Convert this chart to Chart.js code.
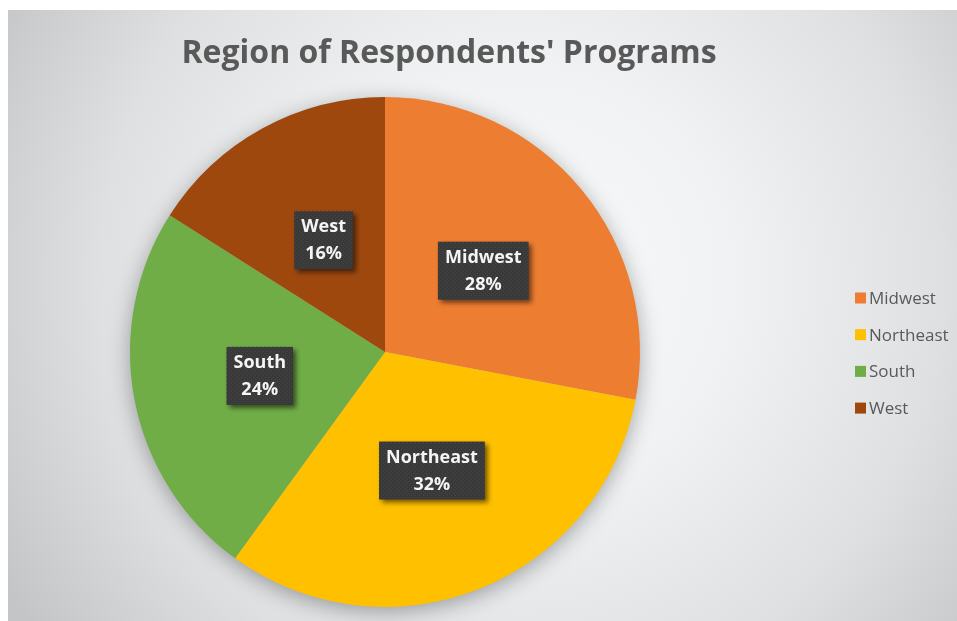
<!DOCTYPE html>
<html>
<head>
<meta charset="utf-8">
<script src="https://cdn.jsdelivr.net/npm/chart.js@4.4.1/dist/chart.umd.min.js"></script>
<style>
  html, body { margin: 0; padding: 0; background: #ffffff; }
  #wrap { width: 957px; height: 621px; }
</style>
</head>
<body>
<div id="wrap"><canvas id="c" width="957" height="621"></canvas></div>
<script>
const chartTitle = "Region of Respondents' Programs";
const categories = ['Midwest', 'Northeast', 'South', 'West'];
const shares = [28, 32, 24, 16];
const sliceColors = ['#ED7D31', '#FFC000', '#70AD47', '#9E480E'];

const FONT = '"Open Sans", "Noto Sans", sans-serif';

// dotted texture for label boxes
const pat = document.createElement('canvas');
pat.width = 4; pat.height = 4;
(function () {
  const p = pat.getContext('2d');
  p.fillStyle = '#393939'; p.fillRect(0, 0, 4, 4);
  p.fillStyle = '#474747'; p.fillRect(1, 1, 1, 1); p.fillRect(3, 3, 1, 1);
})();

const backgroundPlugin = {
  id: 'bg',
  beforeDraw(chart) {
    const ctx = chart.ctx;
    ctx.save();
    ctx.fillStyle = '#ffffff';
    ctx.fillRect(0, 0, chart.width, chart.height);
    const g = ctx.createRadialGradient(520, 280, 0, 520, 280, 600);
    g.addColorStop(0, '#f8f9f9');
    g.addColorStop(0.35, '#f1f2f3');
    g.addColorStop(0.7, '#dfe0e1');
    g.addColorStop(1, '#c4c5c7');
    ctx.fillStyle = g;
    ctx.fillRect(8, 10, chart.width - 8, chart.height - 10);
    ctx.restore();
  },
  beforeDatasetsDraw(chart) {
    const arc = chart.getDatasetMeta(0).data[0];
    if (!arc) return;
    const ctx = chart.ctx;
    ctx.save();
    ctx.shadowColor = 'rgba(0,0,0,0.35)';
    ctx.shadowBlur = 22;
    ctx.shadowOffsetX = 0;
    ctx.shadowOffsetY = 5;
    ctx.beginPath();
    ctx.arc(arc.x, arc.y, arc.outerRadius - 1, 0, Math.PI * 2);
    ctx.fillStyle = '#bbbbbb';
    ctx.fill();
    ctx.restore();
  },
  afterDatasetsDraw(chart) {
    const ctx = chart.ctx;
    const meta = chart.getDatasetMeta(0);
    const data = chart.data.datasets[0].data;
    const total = data.reduce((a, b) => a + b, 0);
    ctx.save();
    ctx.font = 'bold 18px ' + FONT;
    meta.data.forEach((el, i) => {
      const pos = el.tooltipPosition();
      const l1 = chart.data.labels[i];
      const l2 = Math.round(data[i] / total * 100) + '%';
      const w = Math.max(ctx.measureText(l1).width, ctx.measureText(l2).width) + 14;
      const h = 58;
      const x = pos.x - w / 2, y = pos.y - h / 2;
      ctx.save();
      ctx.shadowColor = 'rgba(0,0,0,0.55)';
      ctx.shadowBlur = 5;
      ctx.shadowOffsetX = 3;
      ctx.shadowOffsetY = 3;
      ctx.fillStyle = ctx.createPattern(pat, 'repeat');
      ctx.fillRect(x, y, w, h);
      ctx.restore();
      ctx.fillStyle = '#f4f4f4';
      ctx.textAlign = 'center';
      ctx.textBaseline = 'middle';
      ctx.fillText(l1, pos.x, pos.y - 13);
      ctx.fillText(l2, pos.x, pos.y + 14);
    });
    ctx.restore();
  },
  afterDraw(chart) {
    const ctx = chart.ctx;
    ctx.save();
    // title
    ctx.fillStyle = '#595959';
    ctx.font = 'bold 32px ' + FONT;
    ctx.textAlign = 'center';
    ctx.textBaseline = 'alphabetic';
    ctx.fillText(chartTitle, 449, 63);
    // legend
    ctx.font = '17px ' + FONT;
    ctx.textAlign = 'left';
    ctx.textBaseline = 'middle';
    const colors = chart.data.datasets[0].backgroundColor;
    chart.data.labels.forEach((lab, i) => {
      const cy = 298 + i * 36.7;
      ctx.fillStyle = colors[i];
      ctx.fillRect(855, cy - 5.5, 11, 11);
      ctx.fillStyle = '#595959';
      ctx.fillText(lab, 869, cy + 1);
    });
    ctx.restore();
  }
};

new Chart(document.getElementById('c'), {
  type: 'pie',
  data: {
    labels: categories,
    datasets: [{
      data: shares,
      backgroundColor: sliceColors,
      borderWidth: 0
    }]
  },
  options: {
    responsive: false,
    animation: false,
    devicePixelRatio: 1,
    layout: { padding: { left: 130, right: 317, top: 97, bottom: 14 } },
    plugins: {
      legend: { display: false },
      title: { display: false },
      tooltip: { enabled: false }
    }
  },
  plugins: [backgroundPlugin]
});
</script>
</body>
</html>
